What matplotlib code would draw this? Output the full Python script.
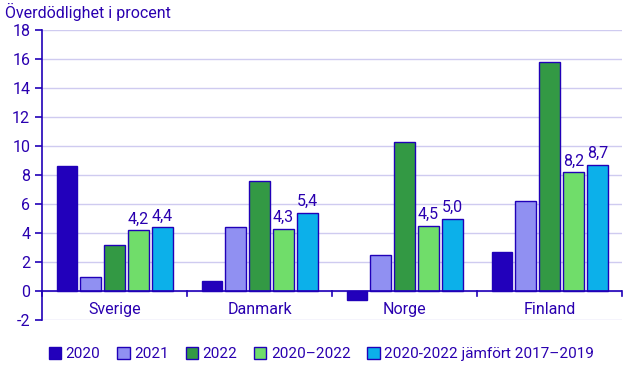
import matplotlib
matplotlib.use("Agg")
import matplotlib.pyplot as plt
import numpy as np

# Data
countries = ["Sverige", "Danmark", "Norge", "Finland"]
series_names = ["2020", "2021", "2022", "2020\u20132022", "2020-2022 jämfört 2017\u20132019"]
v2020 = [8.6, 0.7, -0.6, 2.7]
v2021 = [1.0, 4.4, 2.5, 6.2]
v2022 = [3.2, 7.6, 10.3, 15.8]
v2020_2022 = [4.2, 4.3, 4.5, 8.2]
v_vs_2017_2019 = [4.4, 5.4, 5.0, 8.7]
colors = ["#2200bb", "#9090f2", "#339944", "#70dd6a", "#0cb0ea"]

text_col = "#2a00b0"
edge_col = "#2000b8"
grid_col = "#cfcbf0"

plt.rcParams["font.family"] = ["Roboto", "DejaVu Sans"]
plt.rcParams["axes.unicode_minus"] = False

fig = plt.figure(figsize=(6.43, 3.78), dpi=100)
ax = fig.add_axes([42 / 643, 1 - 320 / 378, 580 / 643, 290 / 378])

all_series = [v2020, v2021, v2022, v2020_2022, v_vs_2017_2019]
x = np.arange(len(countries))
step = 0.1655
width = 0.138
for i, (vals, col, name) in enumerate(zip(all_series, colors, series_names)):
    bars = ax.bar(x + (i - 2) * step, vals, width, color=col, edgecolor=edge_col,
                  linewidth=1.0, label=name, zorder=3)
    if i >= 3:
        for b, v in zip(bars, vals):
            ax.text(b.get_x() + b.get_width() / 2, v + 0.25, f"{v:.1f}".replace(".", ","),
                    ha="center", va="bottom", fontsize=11.5, color=text_col)

ax.set_xlim(-0.5, 3.5)
ax.set_ylim(-2, 18)
ax.set_yticks(range(-2, 19, 2))
ax.set_xticks([])
ax.tick_params(axis="y", colors=edge_col, labelcolor=text_col, labelsize=11.5,
               length=5, width=1.2)
ax.grid(axis="y", color=grid_col, linewidth=1, zorder=0)
for s in ["top", "right", "bottom"]:
    ax.spines[s].set_visible(False)
ax.spines["left"].set_color(edge_col)
ax.spines["left"].set_linewidth(1.2)

# baseline at zero with category separators
ax.axhline(0, color=edge_col, linewidth=1.2, zorder=4)
for b in np.arange(-0.5, 4.0, 1.0):
    ax.plot([b, b], [0, -0.35], color=edge_col, linewidth=1.2, clip_on=False, zorder=4)
for xi, c in zip(x, countries):
    ax.text(xi, -1.3, c, ha="center", va="center", fontsize=11.5, color=text_col)

fig.text(5 / 643, 1 - 12 / 378, "Överdödlighet i procent", ha="left", va="center",
         fontsize=11.5, color=text_col)

leg = fig.legend(loc="center", bbox_to_anchor=(0.5, 1 - 354 / 378), ncol=5, frameon=False,
                 handlelength=0.8, handleheight=0.8, handletextpad=0.3, columnspacing=1.1,
                 fontsize=11)
for t in leg.get_texts():
    t.set_color(text_col)

fig.savefig("out.png", dpi=100)
